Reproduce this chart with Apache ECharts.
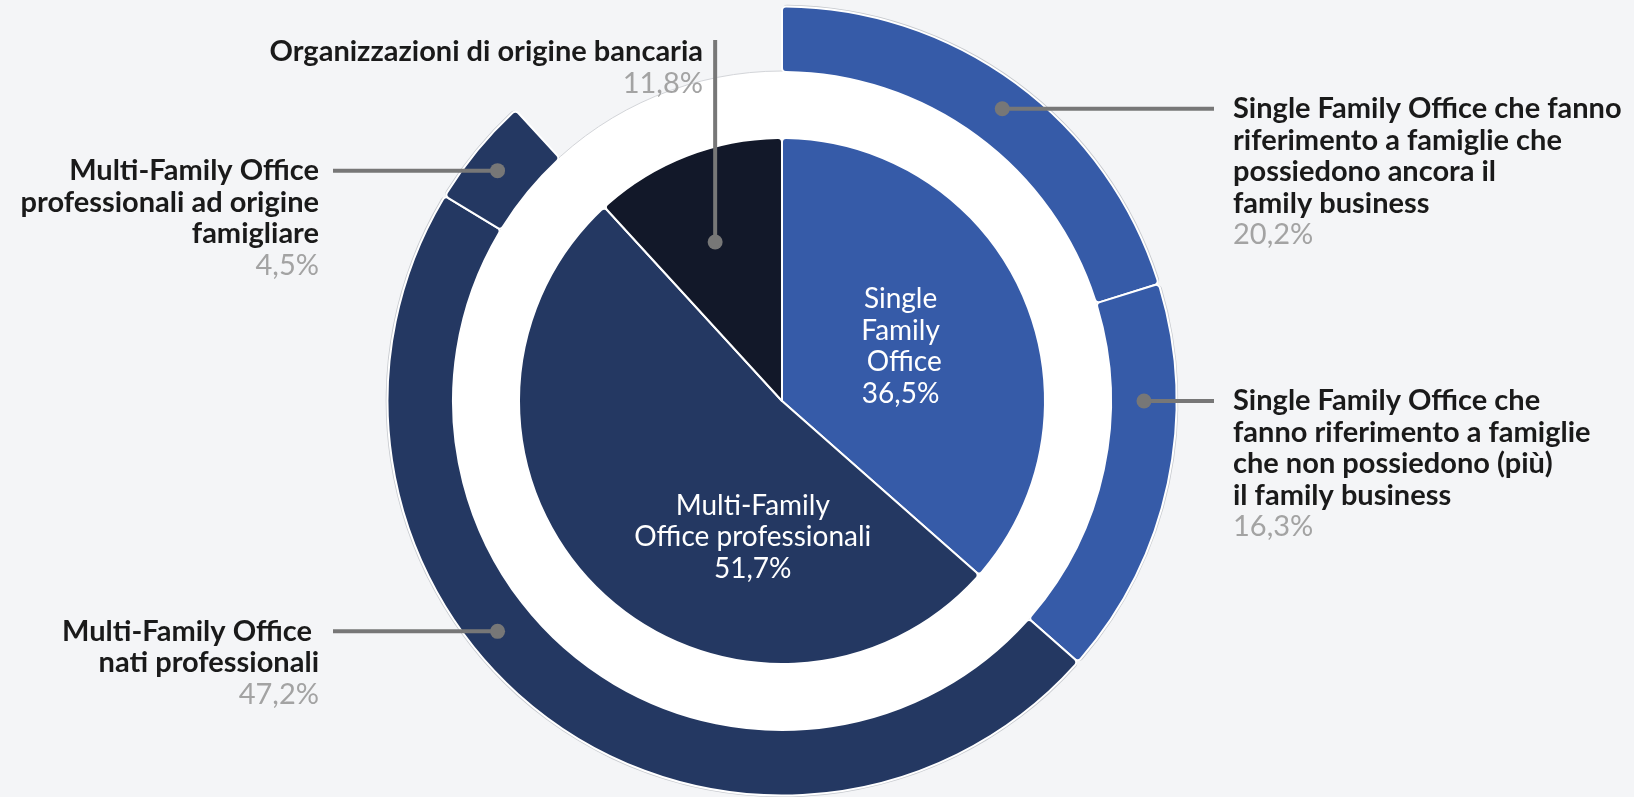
<!DOCTYPE html>
<html>
<head>
<meta charset="utf-8">
<script src="https://cdn.jsdelivr.net/npm/echarts@6/dist/echarts.min.js"></script>
<style>
  html, body { margin: 0; padding: 0; background: #F4F5F7; }
  #chart { width: 1634px; height: 797px; }
</style>
</head>
<body>
<div id="chart"></div>
<script>
// dati: anello interno (tipologia) e anello esterno (sotto-tipologia)
const innerNames = ["Single\nFamily\n Office", "Multi-Family\nOffice professionali", "Organizzazioni di origine bancaria"];
const innerValues = [36.5, 51.7, 11.8];
const innerPct = ["36,5%", "51,7%", "11,8%"];

const outerNames = [
  "Single Family Office che fanno\nriferimento a famiglie che\npossiedono ancora il\nfamily business",
  "Single Family Office che\nfanno riferimento a famiglie\nche non possiedono (più)\nil family business",
  "Multi-Family Office \nnati professionali",
  "Multi-Family Office\nprofessionali ad origine\nfamigliare",
  "" // spazio lasciato vuoto sopra le organizzazioni bancarie
];
const outerValues = [20.2, 16.3, 47.2, 4.5, 11.8];
const outerPct = ["20,2%", "16,3%", "47,2%", "4,5%", ""];

// colori
const SFO_BLUE = "#365BA8";
const MFO_NAVY = "#243862";
const BANK_DARK = "#121829";
const innerColors = [SFO_BLUE, MFO_NAVY, BANK_DARK];
const outerColors = [SFO_BLUE, SFO_BLUE, MFO_NAVY, MFO_NAVY, "transparent"];

// geometria
const CX = 782, CY = 401;
const R_PIE = 263, R_DISK = 330, R_RING_IN = 329, R_RING_OUT = 394.5;
const LINE_H = 31.5;
const LABEL_RIGHT_X = 1233, LABEL_LEFT_X = 319, LEADER_GAP = 19;
const FONT = "Lato";
const FONT_SIZE = 29;

// punti dei richiami (raggio, angolo in gradi dalle ore 12 in senso orario)
const outerCallouts = [
  { r: 366, angle: 37, side: "right" },
  { r: 362, angle: 90, side: "right" },
  { r: 366, angle: 231, side: "left" },
  { r: 366, angle: 309, side: "left" }
];
const bankCallout = { r: 172.5, angle: 337.2, topY: 40, labelX: 703, labelY: 36 };

function polarToXY(r, angle) {
  const a = angle * Math.PI / 180;
  return [CX + r * Math.sin(a), CY - r * Math.cos(a)];
}
function xyToPolar(x, y) {
  const dx = x - CX, dy = y - CY;
  let a = Math.atan2(dx, -dy) * 180 / Math.PI;
  if (a < 0) a += 360;
  return [Math.sqrt(dx * dx + dy * dy), a];
}

const richText = {
  n: { color: "#1a1a1a", fontFamily: FONT, fontWeight: "bold", fontSize: FONT_SIZE, lineHeight: LINE_H },
  v: { color: "#a3a3a3", fontFamily: FONT, fontSize: FONT_SIZE, lineHeight: LINE_H }
};

// linee di richiamo con pallino
const leaderSeries = [];
outerCallouts.forEach((c) => {
  const p = polarToXY(c.r, c.angle);
  const endX = c.side === "right" ? LABEL_RIGHT_X - LEADER_GAP : LABEL_LEFT_X + LEADER_GAP - 5;
  leaderSeries.push({
    type: "line",
    coordinateSystem: "polar",
    data: [
      { value: [c.r, c.angle], symbol: "circle", symbolSize: 15 },
      { value: xyToPolar(endX, p[1]), symbol: "none" }
    ]
  });
});
leaderSeries.push({
  type: "line",
  coordinateSystem: "polar",
  data: [
    { value: [bankCallout.r, bankCallout.angle], symbol: "circle", symbolSize: 15 },
    { value: xyToPolar(polarToXY(bankCallout.r, bankCallout.angle)[0], bankCallout.topY), symbol: "none" }
  ]
});
leaderSeries.forEach((s) => {
  Object.assign(s, {
    showSymbol: true,
    silent: true,
    clip: false,
    z: 6,
    lineStyle: { color: "#777777", width: 4 },
    itemStyle: { color: "#777777" },
    animation: false
  });
});

const chart = echarts.init(document.getElementById("chart"), null, { renderer: "canvas" });

const option = {
  backgroundColor: "#F4F5F7",
  animation: false,
  polar: { center: [CX, CY], radius: 800 },
  angleAxis: { type: "value", min: 0, max: 360, startAngle: 90, clockwise: true, show: false },
  radiusAxis: { type: "value", min: 0, max: 800, show: false },
  series: [
    {
      // contorno grigio dell'anello esterno
      type: "pie",
      center: [CX, CY],
      radius: [R_RING_IN, R_RING_OUT + 1.8],
      silent: true,
      z: 1,
      label: { show: false },
      labelLine: { show: false },
      itemStyle: { borderWidth: 0, borderRadius: 5 },
      data: outerValues.map((v, i) => ({
        value: v,
        itemStyle: { color: i < 4 ? "#c6c9ce" : "transparent" }
      }))
    },
    {
      // disco bianco
      type: "pie",
      center: [CX, CY],
      radius: [0, R_DISK],
      silent: true,
      z: 2,
      label: { show: false },
      labelLine: { show: false },
      itemStyle: { color: "#ffffff", borderColor: "#d3d5d9", borderWidth: 1 },
      data: [{ value: 1 }]
    },
    {
      type: "pie",
      center: [CX, CY],
      radius: [R_RING_IN, R_RING_OUT],
      silent: true,
      z: 3,
      avoidLabelOverlap: false,
      itemStyle: { borderColor: "#ffffff", borderWidth: 2, borderRadius: 4 },
      labelLine: { show: false },
      label: {
        show: true,
        position: "outside",
        formatter: (p) => p.dataIndex < 4 ? "{n|" + outerNames[p.dataIndex] + "}\n{v|" + outerPct[p.dataIndex] + "}" : "",
        rich: richText
      },
      labelLayout: (params) => {
        const c = outerCallouts[params.dataIndex];
        if (!c) return {};
        const p = polarToXY(c.r, c.angle);
        return {
          x: c.side === "right" ? LABEL_RIGHT_X : LABEL_LEFT_X,
          y: p[1] - LINE_H / 2,
          align: c.side === "right" ? "left" : "right",
          verticalAlign: "top"
        };
      },
      data: outerValues.map((v, i) => ({
        name: outerNames[i],
        value: v,
        itemStyle: { color: outerColors[i], borderWidth: i < 4 ? 2 : 0 },
        label: { show: i < 4 }
      }))
    },
    {
      type: "pie",
      center: [CX, CY],
      radius: [0, R_PIE],
      silent: true,
      z: 4,
      avoidLabelOverlap: false,
      itemStyle: { borderColor: "#ffffff", borderWidth: 2, borderRadius: 4 },
      labelLine: { show: false },
      label: {
        show: true,
        position: "inside",
        color: "#ffffff",
        fontFamily: FONT,
        fontSize: 28,
        lineHeight: LINE_H,
        align: "center",
        formatter: (p) => p.dataIndex < 2 ? innerNames[p.dataIndex] + "\n" + innerPct[p.dataIndex] : ""
      },
      labelLayout: (params) => {
        if (params.dataIndex === 0) return { dx: -4, dy: 1 };
        if (params.dataIndex === 1) return { dx: 65, dy: 40 };
        return {};
      },
      data: innerValues.map((v, i) => ({
        name: innerNames[i],
        value: v,
        itemStyle: { color: innerColors[i] }
      }))
    },
    {
      // etichetta esterna delle organizzazioni bancarie
      type: "pie",
      center: [CX, CY],
      radius: [0, R_PIE],
      silent: true,
      z: 5,
      avoidLabelOverlap: false,
      itemStyle: { color: "transparent", borderWidth: 0 },
      labelLine: { show: false },
      label: {
        show: true,
        position: "outside",
        formatter: (p) => p.dataIndex === 2 ? "{n|" + innerNames[2] + "}\n{v|" + innerPct[2] + "}" : "",
        rich: richText
      },
      labelLayout: (params) => params.dataIndex === 2
        ? { x: bankCallout.labelX, y: bankCallout.labelY, align: "right", verticalAlign: "top" }
        : {},
      data: innerValues.map((v, i) => ({ value: v, label: { show: i === 2 } }))
    }
  ].concat(leaderSeries)
};

chart.setOption(option);
</script>
</body>
</html>
